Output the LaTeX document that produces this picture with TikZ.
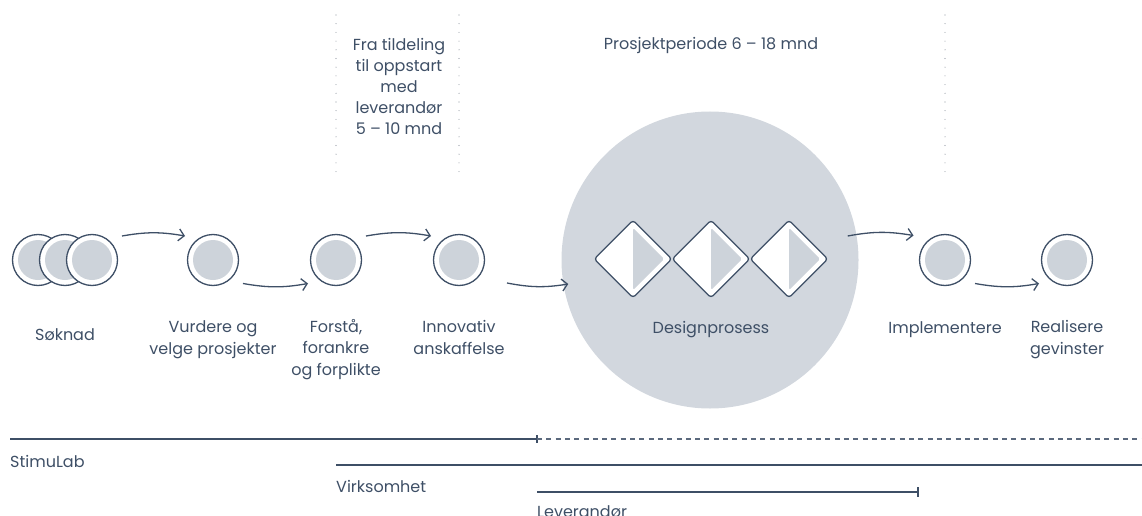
\documentclass[tikz,border=0pt]{standalone}
\usepackage{fontspec}
\setmainfont{Poppins}
\usetikzlibrary{positioning,arrows.meta,shapes.geometric}
\definecolor{ink}{HTML}{3E4F66}
\definecolor{disc}{HTML}{CDD3DA}
\definecolor{bigdisc}{HTML}{D2D7DE}
\definecolor{dotgray}{HTML}{8F96A0}

\begin{document}
\begin{tikzpicture}[x=1pt,y=-1pt,
	font=\fontsize{16}{21.2}\selectfont,
	ring/.style={circle,draw=ink,line width=1.3pt,fill=white,minimum size=51pt,inner sep=0pt,
		path picture={\fill[disc] (path picture bounding box.center) circle (20pt);}},
	dmd/.style={diamond,aspect=1,draw=ink,line width=1.3pt,fill=white,minimum size=78pt,inner sep=0pt,rounded corners=3pt,
		path picture={\fill[disc,rounded corners=1.5pt] ([yshift=31pt]path picture bounding box.center)
			-- ([xshift=31pt]path picture bounding box.center)
			-- ([yshift=-31pt]path picture bounding box.center) -- cycle;}},
	flow/.style={draw=ink,line width=1.3pt,-{Straight Barb[length=5.5pt,width=12pt]}},
	lbl/.style={text=ink,align=center,inner sep=0pt,anchor=base},
	phase/.style={draw=ink,line width=1.4pt},
	dots/.style={draw=dotgray,line width=1.1pt,line cap=round,dash pattern=on 0pt off 8.7pt},
	]
	\useasboundingbox (0,0) rectangle (1142,516);

	% steps
	\node[ring] (s1) at (38,260) {};
	\node[ring] (s2) at (65,260) {};
	\node[ring] (s3) at (92,260) {};
	\node[ring] (vur) at (213,260) {};
	\node[ring] (frs) at (336,260) {};
	\node[ring] (inn) at (459,260) {};
	\node[circle,fill=bigdisc,minimum size=297pt,inner sep=0pt] (dsg) at (710,260) {};
	\node[dmd] (d2) at (711,259) {};
	\node[dmd,left=-1.3pt of d2] (d1) {};
	\node[dmd,right=-1.3pt of d2] (d3) {};
	\node[ring] (imp) at (945,260) {};
	\node[ring] (rea) at (1067,260) {};

	% arrows
	\draw[flow] ([shift={(11.5,-5.5)}]s3.north east) to[bend left=10] ([shift={(-9.5,-5.5)}]vur.north west);
	\draw[flow] ([shift={(11.5,5)}]vur.south east) to[bend right=10] ([shift={(-9.5,5)}]frs.south west);
	\draw[flow] ([shift={(11.5,-5.5)}]frs.north east) to[bend left=10] ([shift={(-9.5,-5.5)}]inn.north west);
	\draw[flow] ([shift={(29.5,4.5)}]inn.south east) to[bend right=10] ([shift={(7,24)}]dsg.west);
	\draw[flow] ([shift={(-11,-24)}]dsg.east) to[bend left=10] ([shift={(-13,-6)}]imp.north west);
	\draw[flow] ([shift={(11.5,5)}]imp.south east) to[bend right=10] ([shift={(-9.5,5)}]rea.south west);

	% periods (base = last line)
	\draw[dots] (frs |- 0,15) -- (frs |- 0,176);
	\draw[dots] (inn |- 0,15) -- (inn |- 0,176);
	\draw[dots] (imp |- 0,15) -- (imp |- 0,176);
	\node[lbl] (per1) at (399,135) {Fra tildeling\\til oppstart\\med\\leverandør\\5 – 10 mnd};
	\node[lbl] (per2) at (711,50) {Prosjektperiode 6 – 18 mnd};

	% labels
	\node[lbl] (l-sok) at (s2 |- 0,340) {Søknad};
	\node[lbl] (l-vur) at (vur |- 0,354) {Vurdere og\\velge prosjekter};
	\node[lbl] (l-frs) at (frs |- 0,375) {Forstå,\\forankre\\og forplikte};
	\node[lbl] (l-inn) at (inn |- 0,354) {Innovativ\\anskaffelse};
	\node[lbl] (l-dsg) at (d2 |- 0,333) {Designprosess};
	\node[lbl] (l-imp) at (imp |- 0,333) {Implementere};
	\node[lbl] (l-rea) at (rea |- 0,354) {Realisere\\gevinster};

	% roles
	\draw[phase] (10,439) -- (537,439);
	\draw[phase] (537,435) -- (537,443);
	\draw[phase,draw=ink!85,dash pattern=on 5pt off 4.3pt] (537,439) -- (1142,439);
	\node[lbl,anchor=base west] (stim) at (10,467) {StimuLab};
	\draw[phase] (frs |- 0,465) -- (1142,465);
	\node[lbl,anchor=base west] (virk) at (frs |- 0,492) {Virksomhet};
	\draw[phase] (537,492) -- (918,492);
	\draw[phase] (918,487) -- (918,497);
	\node[lbl,anchor=base west] (lev) at (537,517) {Leverandør};
\end{tikzpicture}
\end{document}
